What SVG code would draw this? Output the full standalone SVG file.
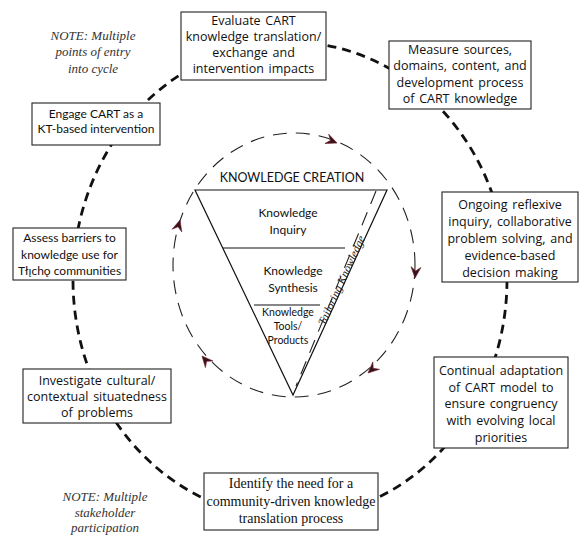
<svg xmlns="http://www.w3.org/2000/svg" width="580" height="536" viewBox="0 0 580 536">
<style>
.box{fill:#fff;stroke:#222;stroke-width:1.1}
.s{font-family:"Open Sans","Liberation Sans",sans-serif;font-size:12.5px;word-spacing:1.5px;fill:#111;text-anchor:middle}
.o{font-family:Lato,"Liberation Sans","DejaVu Sans",sans-serif;font-size:12px;fill:#111;text-anchor:middle}
.g{font-family:"Liberation Serif",serif;font-size:14px;fill:#111;text-anchor:middle}
.n{font-family:"Liberation Serif",serif;font-style:italic;font-size:13px;fill:#333;text-anchor:middle}
.cycle{fill:none;stroke:#111;stroke-width:2.8;stroke-dasharray:9 6}
.inner{fill:none;stroke:#222;stroke-width:1.1;stroke-dasharray:14 9}
.tri{fill:none;stroke:#111;stroke-width:1.2}
.ah{fill:#3a1216;stroke:#6a2030;stroke-width:0.6}
</style>
<defs>
<path id="ah" class="ah" d="M0,0 L-11,-5 L-7,0 L-11,5 Z"/>
</defs>
<g id="connectors">
<ellipse class="cycle" cx="290" cy="280" rx="217" ry="238"/>
<ellipse class="inner" cx="294" cy="265" rx="121" ry="132"/>
<use href="#ah" transform="translate(337,143) rotate(22)"/>
<use href="#ah" transform="translate(415,278) rotate(95)"/>
<use href="#ah" transform="translate(368,373) rotate(138)"/>
<use href="#ah" transform="translate(202,356) rotate(-131)"/>
<use href="#ah" transform="translate(180,220) rotate(-74)"/>
</g>
<g id="knowledge-creation">
<path class="tri" d="M195,190 L387,190 L293,395 Z"/>
<path class="tri" d="M223,248 L345,248"/>
<path class="tri" d="M254,305 L320,305"/>
<path class="inner" d="M376,191 L296,386"/>
<text class="o" x="292" y="182" style="font-size:12.5px">KNOWLEDGE CREATION</text>
<text class="o" x="288" y="217">Knowledge</text>
<text class="o" x="288" y="234">Inquiry</text>
<text class="o" x="293" y="275">Knowledge</text>
<text class="o" x="293" y="292">Synthesis</text>
<text class="o" x="288" y="316" style="font-size:10.5px">Knowledge</text>
<text class="o" x="288" y="330" style="font-size:10.5px">Tools/</text>
<text class="o" x="288" y="344" style="font-size:10.5px">Products</text>
<text class="n" transform="translate(345,282) rotate(-65.4)" style="font-size:11.5px;fill:#222">Tailoring Knowledge</text>
</g>
<g id="evaluate">
<rect class="box" x="181" y="12" width="145" height="68"/>
<text class="s" x="253.5" y="24.5">Evaluate CART</text>
<text class="s" x="253.5" y="40.5">knowledge translation/</text>
<text class="s" x="253.5" y="56.5">exchange and</text>
<text class="s" x="253.5" y="72.5">intervention impacts</text>
</g>
<g id="measure">
<rect class="box" x="389" y="41" width="142" height="68"/>
<text class="s" x="460" y="54">Measure sources,</text>
<text class="s" x="460" y="70">domains, content, and</text>
<text class="s" x="460" y="87">development process</text>
<text class="s" x="460" y="103">of CART knowledge</text>
</g>
<g id="engage">
<rect class="box" x="32" y="103" width="128" height="42"/>
<text class="o" x="96" y="117.5">Engage CART as a</text>
<text class="o" x="96" y="132.5">KT-based intervention</text>
</g>
<g id="assess">
<rect class="box" x="13" y="228" width="113" height="52"/>
<text class="o" x="69.5" y="241.5">Assess barriers to</text>
<text class="o" x="69.5" y="258.5">knowledge use for</text>
<text class="o" x="69.5" y="274.5">Tłı̨chǫ communities</text>
</g>
<g id="ongoing">
<rect class="box" x="442" y="192" width="136" height="90"/>
<text class="s" x="510" y="208.5">Ongoing reflexive</text>
<text class="s" x="510" y="225.5">inquiry, collaborative</text>
<text class="s" x="510" y="242.5">problem solving, and</text>
<text class="s" x="510" y="259.5">evidence-based</text>
<text class="s" x="510" y="276.5">decision making</text>
</g>
<g id="continual">
<rect class="box" x="434" y="357" width="134" height="91"/>
<text class="s" x="501" y="374.5">Continual adaptation</text>
<text class="s" x="501" y="391.5">of CART model to</text>
<text class="s" x="501" y="408">ensure congruency</text>
<text class="s" x="501" y="425">with evolving local</text>
<text class="s" x="501" y="441.5">priorities</text>
</g>
<g id="investigate">
<rect class="box" x="23" y="369" width="148" height="54"/>
<text class="s" x="97" y="384.5">Investigate cultural/</text>
<text class="s" x="97" y="400.5">contextual situatedness</text>
<text class="s" x="97" y="416.5">of problems</text>
</g>
<g id="identify">
<rect class="box" x="204" y="473" width="174" height="57"/>
<text class="g" x="291" y="487.5">Identify the need for a</text>
<text class="g" x="291" y="505.5">community-driven knowledge</text>
<text class="g" x="291" y="522.5">translation process</text>
</g>
<g id="note-entry">
<text class="n" x="93" y="39.5">NOTE: Multiple</text>
<text class="n" x="93" y="56">points of entry</text>
<text class="n" x="93" y="72.5">into cycle</text>
</g>
<g id="note-stakeholder">
<text class="n" x="105" y="500.5">NOTE: Multiple</text>
<text class="n" x="105" y="516.5">stakeholder</text>
<text class="n" x="105" y="531.5">participation</text>
</g>
</svg>
